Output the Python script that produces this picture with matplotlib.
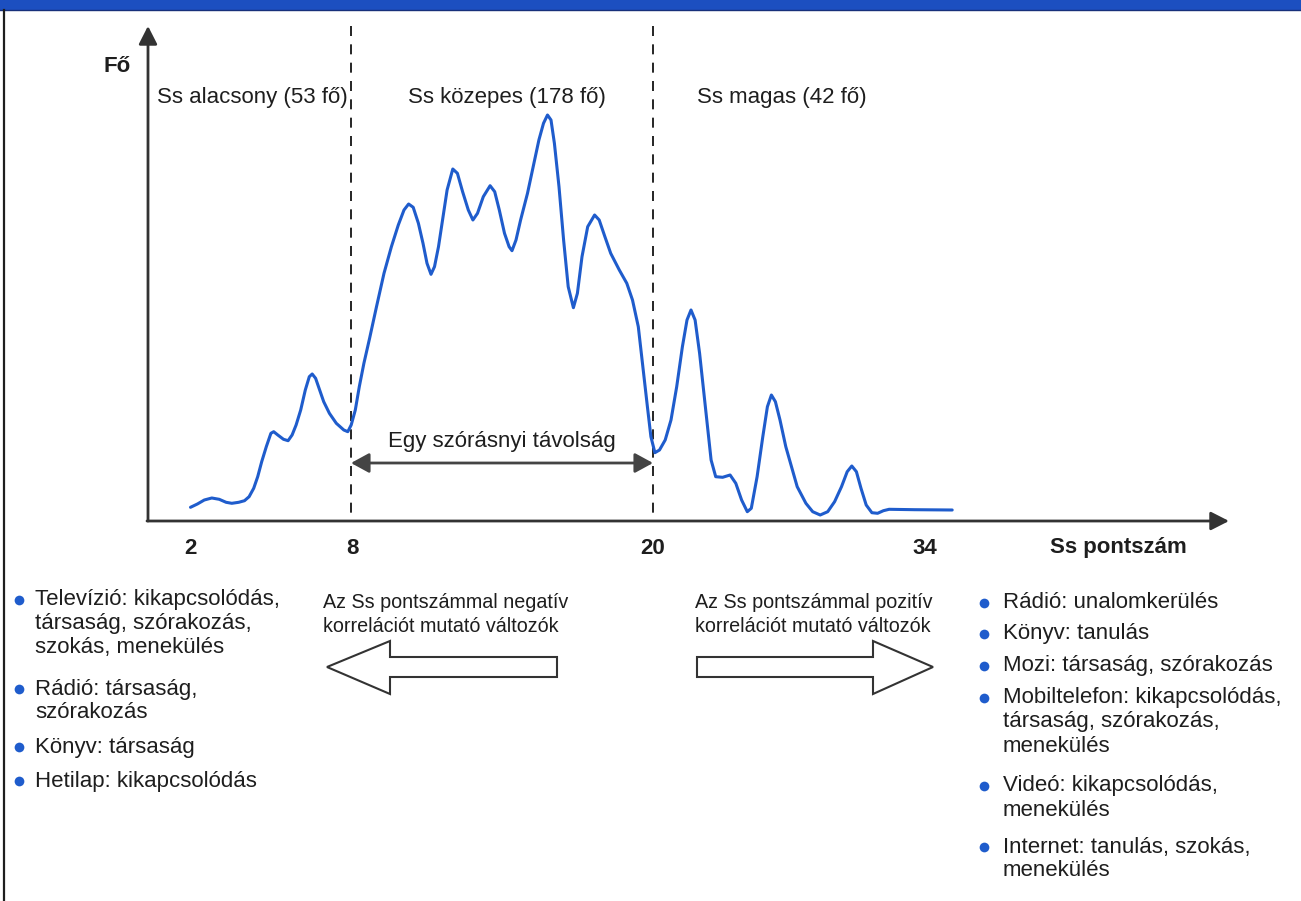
import numpy as np
import matplotlib.pyplot as plt
from matplotlib.patches import Polygon, Rectangle, FancyArrowPatch

plt.rcParams['font.family'] = ['Liberation Sans', 'DejaVu Sans']

# canvas is laid out in pixels of the original page (y grows downwards)
W, H = 1301, 901
BASE = 521      # row of the x axis
AXIS_X = 148    # column of the y axis

# distribution curve: position along the axis (px) and height above the axis (px)
curve_x = [190.5, 197.4, 204.3, 211.8, 219.2, 226.1, 231.8, 238.7, 244.5, 249.1,
           253.7, 257.7, 261.7, 266.3, 270.9, 273.7, 277.8, 283.5, 288.1, 292.1,
           296.1, 300.7, 305.3, 309.3, 312.2, 315.6, 319.7, 323.7, 329.4, 336.3,
           343.8, 347.8, 351.2, 355.3, 359.3, 363.9, 369.6, 376.5, 384.0, 391.4,
           398.3, 404.0, 408.6, 413.2, 418.4, 423.0, 427.0, 431.0, 434.5, 438.5,
           442.5, 447.1, 452.8, 457.4, 462.6, 468.3, 472.9, 477.5, 483.3, 490.1,
           494.7, 499.3, 504.5, 509.1, 512.0, 516.0, 520.6, 527.5, 533.2, 538.9,
           543.5, 547.5, 551.0, 554.4, 559.0, 563.6, 568.2, 573.4, 577.4, 582.0,
           587.7, 594.6, 599.2, 604.9, 610.7, 619.3, 626.8, 632.5, 638.3, 642.8,
           647.4, 650.9, 654.9, 659.5, 665.2, 671.0, 676.7, 682.4, 687.0, 691.0,
           695.1, 699.6, 705.4, 711.1, 715.7, 722.6, 730.1, 735.8, 741.6, 747.3,
           751.3, 757.1, 762.8, 767.4, 771.4, 775.4, 780.0, 785.8, 791.5, 797.2,
           805.9, 812.7, 820.2, 827.7, 834.6, 841.5, 847.2, 851.8, 856.4, 861.0,
           866.2, 871.9, 877.6, 883.4, 889.1, 914.9, 952.2]
curve_h = [13.7, 17.0, 21.0, 23.0, 21.7, 18.7, 17.7, 18.7, 20.3, 24.3,
           32.7, 44.3, 59.3, 74.3, 87.7, 89.3, 86.0, 81.7, 80.3, 86.0,
           96.0, 111.0, 131.0, 144.3, 147.0, 142.7, 131.0, 119.3, 107.7, 97.7,
           91.0, 89.3, 96.0, 111.0, 134.3, 157.7, 182.7, 214.3, 247.7, 274.3,
           296.0, 311.0, 317.0, 313.7, 297.7, 277.7, 257.7, 246.7, 254.3, 274.3,
           301.0, 331.0, 352.0, 347.7, 329.3, 311.0, 301.0, 307.7, 324.3, 335.3,
           329.3, 311.0, 287.7, 274.3, 270.3, 281.0, 301.0, 327.7, 354.3, 381.0,
           397.7, 406.0, 401.0, 377.7, 334.3, 281.0, 234.3, 213.3, 227.7, 264.3,
           294.3, 306.0, 301.0, 284.3, 267.7, 251.0, 237.7, 221.0, 194.3, 154.3,
           114.3, 84.3, 68.3, 71.0, 81.0, 101.0, 134.3, 174.3, 201.0, 211.0,
           201.0, 167.7, 114.3, 61.0, 44.3, 43.7, 46.0, 37.7, 21.0, 9.3,
           12.7, 44.3, 84.3, 114.3, 126.0, 119.3, 101.0, 74.3, 54.3, 34.3,
           17.7, 9.3, 6.0, 9.3, 19.3, 34.3, 49.3, 55.0, 49.3, 32.7,
           16.0, 8.3, 7.7, 10.3, 11.7, 11.3, 11.0]

tick_labels = ['2', '8', '20', '34']
tick_pos = [190, 352, 653, 925]
cut_pos = [351, 653]   # Ss score 8 and 20

group_labels = ['Ss alacsony (53 fő)', 'Ss közepes (178 fő)', 'Ss magas (42 fő)']
group_x = [157, 408, 697]

neg_title = ['Az Ss pontszámmal negatív', 'korrelációt mutató változók']
pos_title = ['Az Ss pontszámmal pozitív', 'korrelációt mutató változók']

left_items = [['Televízió: kikapcsolódás,', 'társaság, szórakozás,', 'szokás, menekülés'],
              ['Rádió: társaság,', 'szórakozás'],
              ['Könyv: társaság'],
              ['Hetilap: kikapcsolódás']]
right_items = [['Rádió: unalomkerülés'],
               ['Könyv: tanulás'],
               ['Mozi: társaság, szórakozás'],
               ['Mobiltelefon: kikapcsolódás,', 'társaság, szórakozás,', 'menekülés'],
               ['Videó: kikapcsolódás,', 'menekülés'],
               ['Internet: tanulás, szokás,', 'menekülés']]
left_rows = [[600, 624, 648], [689, 713], [747], [781]]
right_rows = [[603], [634], [666], [698, 722, 746], [786, 810], [847, 871]]

BLUE = '#1f5ccc'
INK = '#1e1e1e'
AXIS = '#333333'

fig = plt.figure(figsize=(W / 100, H / 100), dpi=100)
ax = fig.add_axes([0, 0, 1, 1])
ax.set_xlim(0, W)
ax.set_ylim(H, 0)
ax.axis('off')

# page decoration: blue header band and left rule
ax.add_patch(Rectangle((0, 0), W, 10, color='#1c4fc0', lw=0))
ax.plot([0, W], [10, 10], color='#17307a', lw=1)
ax.plot([4, 4], [10, H], color=INK, lw=1.6)

# axes with arrow heads
arrow_style = '-|>,head_length=0.55,head_width=0.28'
ax.add_patch(FancyArrowPatch((AXIS_X, BASE), (AXIS_X, 26), arrowstyle=arrow_style,
                             mutation_scale=20, color=AXIS, lw=2, shrinkA=0, shrinkB=0))
ax.add_patch(FancyArrowPatch((AXIS_X - 1, BASE), (1229, BASE), arrowstyle=arrow_style,
                             mutation_scale=20, color=AXIS, lw=2, shrinkA=0, shrinkB=0))

# dashed cut lines at 8 and 20
for xc in cut_pos:
    ax.plot([xc, xc], [26, BASE], color='black', lw=1.2, dashes=(6, 5))

# curve
ax.plot(curve_x, [BASE - h for h in curve_h], color=BLUE, lw=2.2,
        solid_joinstyle='round', solid_capstyle='round')

# one standard deviation arrow
ax.add_patch(FancyArrowPatch((cut_pos[0], 463), (cut_pos[1], 463),
                             arrowstyle='<|-|>,head_length=0.55,head_width=0.3',
                             mutation_scale=20, color='#444444', lw=2, shrinkA=0, shrinkB=0))
ax.text(sum(cut_pos) / 2, 441, 'Egy szórásnyi távolság', ha='center', va='center',
        fontsize=16, color=INK)

# labels
ax.text(117, 67, 'Fő', ha='center', va='center', fontsize=16, fontweight='bold', color=INK)
for lab, xg in zip(group_labels, group_x):
    ax.text(xg, 98, lab, ha='left', va='center', fontsize=16, color=INK)
for lab, xt in zip(tick_labels, tick_pos):
    ax.text(xt, 548, lab, ha='center', va='center', fontsize=16, fontweight='bold', color=INK)
ax.text(1118, 548, 'Ss pontszám', ha='center', va='center', fontsize=16,
        fontweight='bold', color=INK)

# correlation captions (condensed in the original, so a touch smaller here)
for i, line in enumerate(neg_title):
    ax.text(323, 602 + 24 * i, line, ha='left', va='center', fontsize=14.2, color=INK)
for i, line in enumerate(pos_title):
    ax.text(695, 602 + 24 * i, line, ha='left', va='center', fontsize=14.2, color=INK)

# hollow block arrows
left_arrow = [(327, 667), (390, 641), (390, 657), (557, 657), (557, 677), (390, 677), (390, 694)]
right_arrow = [(933, 667), (873, 641), (873, 657), (697, 657), (697, 677), (873, 677), (873, 694)]
for pts in (left_arrow, right_arrow):
    ax.add_patch(Polygon(pts, closed=True, facecolor='white', edgecolor=AXIS, lw=1.5))

# bullet lists
def bullet_list(items, rows, x_dot, x_text):
    for lines, ys in zip(items, rows):
        ax.plot(x_dot, ys[0], 'o', color=BLUE, ms=7, mec='none')
        for line, y in zip(lines, ys):
            ax.text(x_text, y, line, ha='left', va='center', fontsize=16, color=INK)

bullet_list(left_items, left_rows, 19, 35)
bullet_list(right_items, right_rows, 984, 1003)

fig.savefig('out.png', dpi=100)
